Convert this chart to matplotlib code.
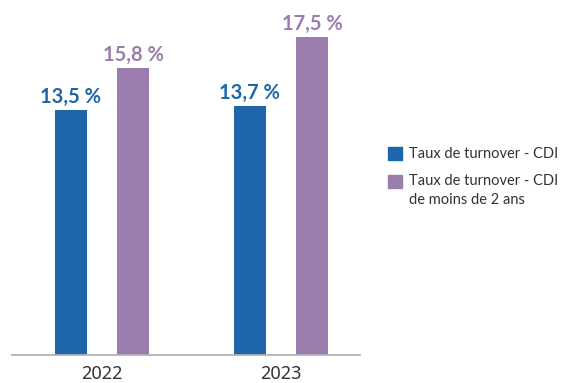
import matplotlib.pyplot as plt
import numpy as np
from matplotlib.patches import Rectangle

plt.rcParams['font.family'] = ['Noto Sans', 'DejaVu Sans']

years = ["2022", "2023"]
turnover_cdi = [13.5, 13.7]
turnover_cdi_2ans = [15.8, 17.5]
value_labels_cdi = ["13,5 %", "13,7 %"]
value_labels_2ans = ["15,8 %", "17,5 %"]
legend_labels = ["Taux de turnover - CDI", "Taux de turnover - CDI\nde moins de 2 ans"]

blue = "#1d66aa"
purple = "#9b7dad"

W, H = 561, 383
fig = plt.figure(figsize=(W / 100, H / 100), dpi=100)
ax = fig.add_axes([12 / W, 28 / H, 348 / W, 355 / H])

x = np.arange(len(years))
w = 0.179
off = 0.175
ax.bar(x - off, turnover_cdi, w, color=blue)
ax.bar(x + off, turnover_cdi_2ans, w, color=purple)

label_font = dict(family=["Lato", "DejaVu Sans"], fontsize=14.5, fontweight="bold")
for xi, v, lab in zip(x, turnover_cdi, value_labels_cdi):
    ax.annotate(lab, (xi - off, v), xytext=(0, 5), textcoords="offset points",
                ha="center", va="baseline", color=blue, **label_font)
for xi, v, lab in zip(x, turnover_cdi_2ans, value_labels_2ans):
    ax.annotate(lab, (xi + off, v), xytext=(0, 5), textcoords="offset points",
                ha="center", va="baseline", color=purple, **label_font)

ax.set_xlim(-0.503, 1.441)
ax.set_ylim(0, 19.54)
ax.set_xticks(x)
ax.set_xticklabels(years, fontsize=13, color="#333333")
ax.tick_params(axis="x", length=0, pad=7)
ax.set_yticks([])
for s in ["top", "right", "left"]:
    ax.spines[s].set_visible(False)
ax.spines["bottom"].set_color("#b3b3b3")
ax.spines["bottom"].set_linewidth(1.3)

# legend: squares aligned with the first text line
legend_font = dict(family=["Lato", "DejaVu Sans"], fontsize=10.5, color="#333333")
for (top, baseline), col, lab in zip([(147, 158), (175, 185)], [blue, purple], legend_labels):
    fig.patches.append(Rectangle((388 / W, 1 - (top + 13) / H), 14 / W, 13 / H,
                                 transform=fig.transFigure, color=col))
    fig.text(409 / W, 1 - baseline / H, lab.split("\n")[0], va="baseline", **legend_font)
    for i, extra in enumerate(lab.split("\n")[1:], start=1):
        fig.text(409 / W, 1 - (baseline + 19 * i) / H, extra, va="baseline", **legend_font)

fig.savefig("out.png", dpi=100)
